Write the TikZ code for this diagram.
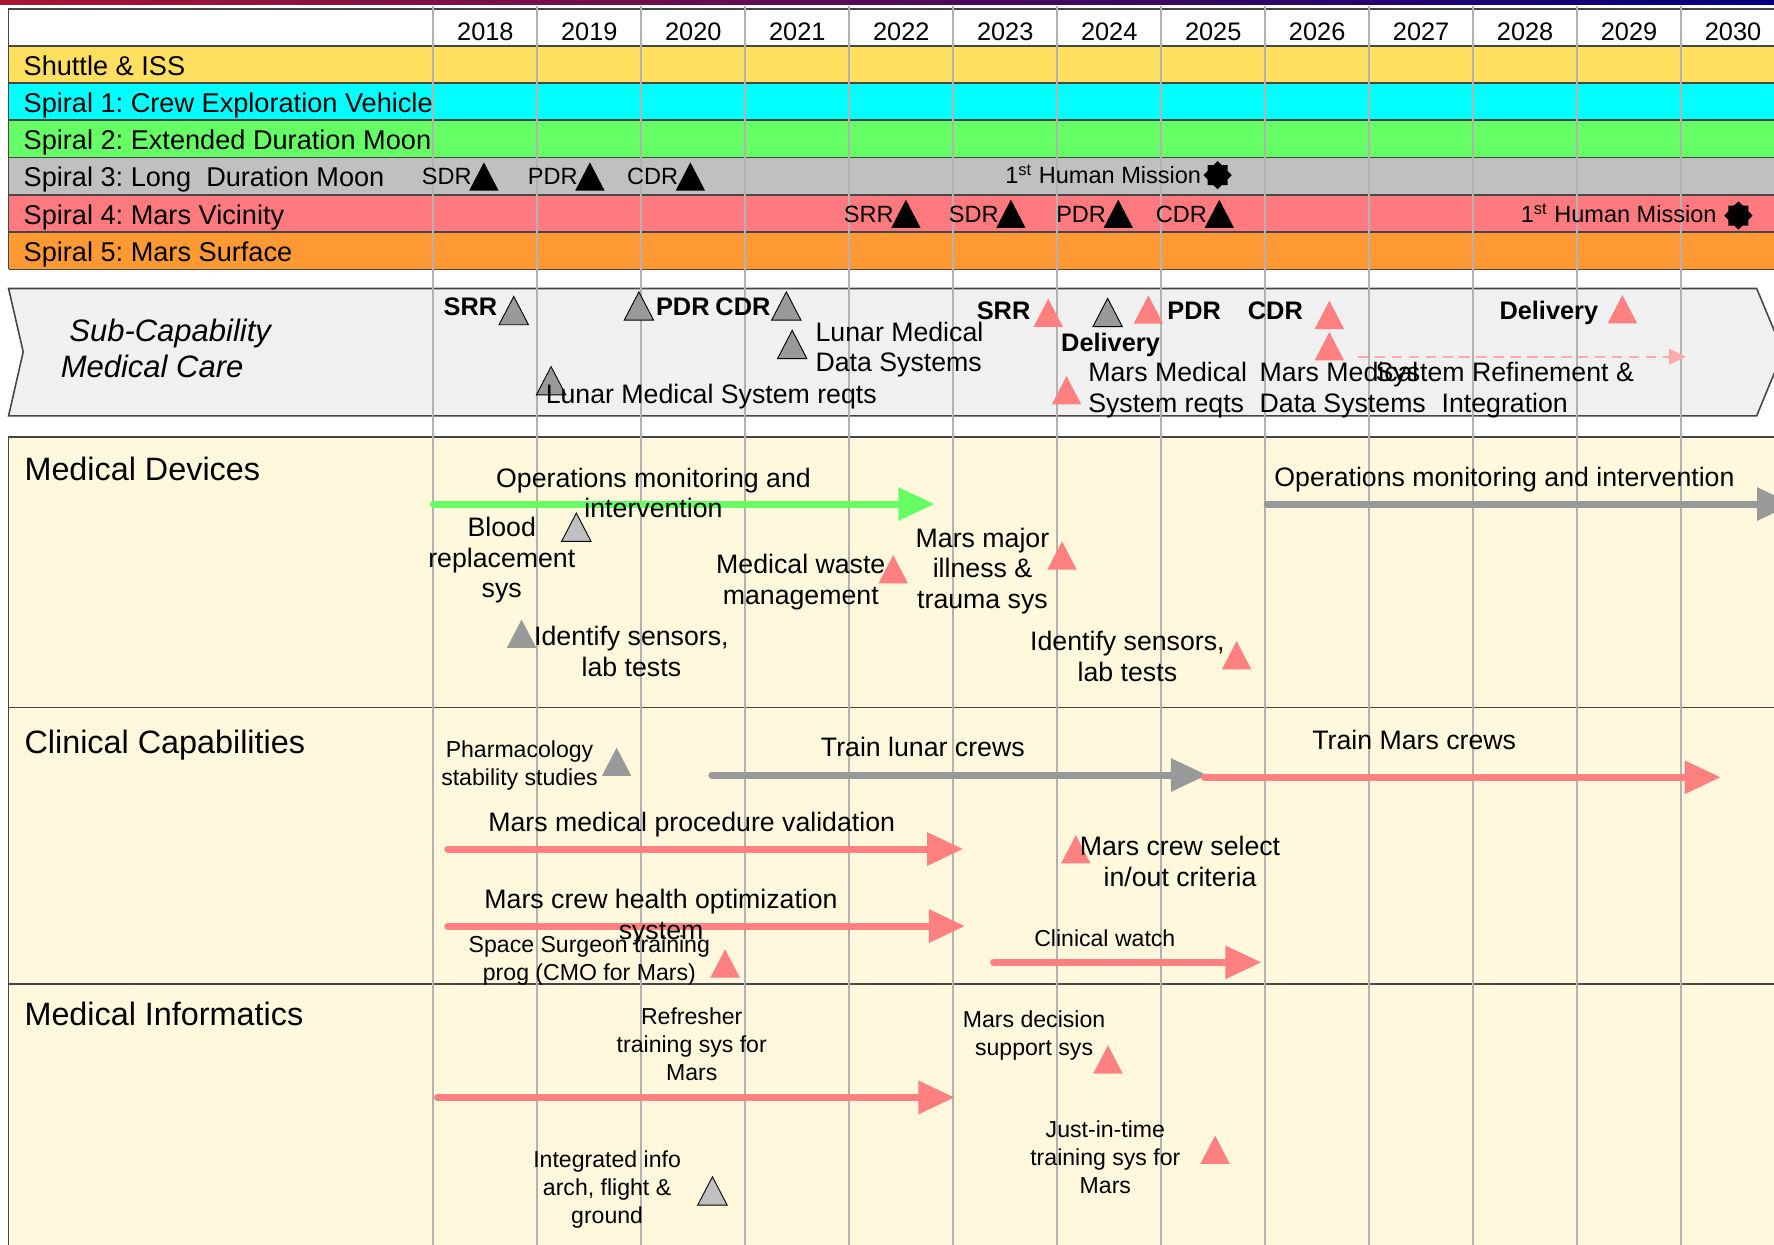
\documentclass[tikz,border=0pt]{standalone}
\usepackage{fontspec}
\setmainfont{Liberation Sans}
\usetikzlibrary{arrows.meta,shapes.geometric}
\frenchspacing

\definecolor{shuttle}{RGB}{255,223,95}
\definecolor{spiralone}{RGB}{0,255,255}
\definecolor{spiraltwo}{RGB}{102,255,102}
\definecolor{spiralthree}{RGB}{192,192,192}
\definecolor{spiralfour}{RGB}{255,122,126}
\definecolor{spiralfive}{RGB}{255,153,51}
\definecolor{panelbg}{RGB}{255,248,220}
\definecolor{chevronbg}{RGB}{240,240,240}
\definecolor{marspink}{RGB}{255,128,128}
\definecolor{dashpink}{RGB}{255,170,170}
\definecolor{lunargray}{RGB}{153,153,153}
\definecolor{palegray}{RGB}{192,192,192}
\definecolor{gridgray}{RGB}{178,178,178}
\definecolor{edgegray}{RGB}{70,70,70}

\newcommand{\txtyear}{\fontsize{11.2}{13}\selectfont}
\newcommand{\txtrow}{\fontsize{12}{14}\selectfont}
\newcommand{\txtms}{\fontsize{10.4}{12}\selectfont}
\newcommand{\txtbody}{\fontsize{11.8}{13.5}\selectfont}
\newcommand{\txtsmall}{\fontsize{10.2}{12.4}\selectfont}
\newcommand{\txthead}{\fontsize{14.3}{17}\selectfont}
\newcommand{\txtbold}{\fontsize{11.2}{13.5}\selectfont\bfseries}

\tikzset{
	ms/.pic={\path[pic actions] (-13,12.5) -- (0,-12.5) -- (13,12.5) -- cycle;},
	mspink/.style={fill=marspink},
	msgray/.style={fill=lunargray, draw=black, line width=0.4pt},
	mssolid/.style={fill=lunargray},
	mspale/.style={fill=palegray, draw=black, line width=0.4pt},
	msblack/.style={fill=black},
	human/.style={star, star points=8, star point ratio=1.3, fill=black, minimum size=12.5pt, inner sep=0pt},
	bar/.style={line width=3.1pt, line cap=round, -{Triangle[length=16pt,width=14pt]}},
	txt/.style={inner sep=0pt, font=\txtbody},
	txtsm/.style={inner sep=0pt, font=\txtsmall},
	multi/.style={anchor=north, align=center},
	mslbl/.style={anchor=base east, inner sep=0pt, font=\txtms},
	boldlbl/.style={anchor=base west, inner sep=0pt, font=\txtbold},
	sect/.style={anchor=base west, inner sep=0pt, font=\txthead},
}

\begin{document}
\begin{tikzpicture}[x=0.5pt,y=-0.5pt]
	\useasboundingbox (0,0) rectangle (1568,1100);
	\clip (0,0) rectangle (1568,1100);

	\shade[left color={rgb,255:red,170;green,20;blue,50}, middle color={rgb,255:red,100;green,0;blue,80}, right color={rgb,255:red,0;green,0;blue,128}] (0,0) rectangle (1568,4.4);

	\foreach \c/\t [count=\i from 0] in {shuttle/Shuttle \& ISS, spiralone/Spiral 1: Crew Exploration Vehicle, spiraltwo/Spiral 2: Extended Duration Moon, spiralthree/Spiral 3: Long~ Duration Moon, spiralfour/Spiral 4: Mars Vicinity, spiralfive/Spiral 5: Mars Surface}
	{
		\fill[\c] (7.6,40.4+32.95*\i) rectangle (1568,73.35+32.95*\i);
		\node[anchor=base west, inner sep=0pt, font=\txtrow] (row\i) at (20.5,66.4+32.95*\i) {\t};
	}
	\foreach \i in {0,...,6}
		\draw[edgegray, line width=0.7pt] (7.6,40.4+32.95*\i) -- (1568,40.4+32.95*\i);
	\draw[edgegray, line width=0.7pt] (1568,8) -- (7.6,8) -- (7.6,238.1);

	\draw[edgegray, line width=0.7pt, fill=chevronbg] (7.6,255) -- (1552.7,255) -- (1576,311) -- (1552.7,367.5) -- (7.6,367.5) -- (20.5,311) -- cycle;

	\foreach \top/\bot in {386/625.2, 625.2/869.8, 869.8/1110}
		\draw[edgegray, line width=0.7pt, fill=panelbg] (1600,\top) -- (7.6,\top) -- (7.6,\bot) -- (1600,\bot);

	\foreach \i in {0,...,12}
		\draw[gridgray, line width=0.9pt] (383+91.9*\i,5) -- (383+91.9*\i,1100);

	\foreach \yr [count=\i from 0] in {2018,...,2030}
		\node[anchor=base, inner sep=0pt, font=\txtyear] (y\yr) at (429+91.9*\i,36) {\yr};

	\foreach \x/\t in {427.7/SDR, 521.4/PDR, 610.2/CDR}
	{
		\pic[msblack] at (\x,156) {ms};
		\node[mslbl] (moon\t) at (\x-10.5,163) {\t};
	}
	\foreach \x/\t in {800.7/SRR, 893.5/SDR, 988.4/PDR, 1077.7/CDR}
	{
		\pic[msblack] at (\x,189) {ms};
		\node[mslbl] (mars\t) at (\x-10.5,196.5) {\t};
	}
	\node[human] (hmmoon) at (1076.2,154.8) {};
	\node[mslbl] (hmmoontxt) at (1062,162) {1\textsuperscript{st} Human Mission};
	\node[human] (hmmars) at (1536.5,190.5) {};
	\node[mslbl] (hmmarstxt) at (1517.6,196.8) {1\textsuperscript{st} Human Mission};

	\node[anchor=north west, align=left, inner sep=0pt, font=\fontsize{13.7}{16}\selectfont\itshape] (subcap) at (53.3,281.4) {\hspace*{0.278em}Sub-Capability\\Medical Care};

	\draw[dashpink, line width=1pt, dash pattern=on 4.5pt off 3pt, -{Triangle[length=7.5pt,width=7pt]}] (1200,315.3) -- (1490,315.3);

	\foreach \x/\y in {454.1/274.5, 564.7/270.5, 695/270.5, 700.2/304.5, 487.1/336.5, 979/276.2}
		\pic[msgray] at (\x,\y) {ms};
	\foreach \x/\y in {926.5/276.5, 1015/273.6, 1175/278.3, 1175/306, 942.7/344.9, 1434/273.3}
		\pic[mspink] at (\x,\y) {ms};

	\node[boldlbl] (srrmoon) at (391.7,279) {SRR};
	\node[boldlbl] (pdrmoon) at (579.5,279) {PDR};
	\node[boldlbl] (cdrmoon) at (632,279) {CDR};
	\node[boldlbl] (srrmars) at (863,282.3) {SRR};
	\node[boldlbl] (pdrmars) at (1031.5,282.3) {PDR};
	\node[boldlbl] (cdrmars) at (1102.6,282.3) {CDR};
	\node[boldlbl] (delmars) at (1325,282.3) {Delivery};
	\node[boldlbl] (delmoon) at (937.6,311) {Delivery};

	\node[txt, anchor=north west, align=left] (lunardata) at (720.5,284) {Lunar Medical\\Data Systems};
	\node[txt, anchor=base west] (lunarreqts) at (482,357) {Lunar Medical System reqts};
	\node[txt, anchor=north west, align=left] (marsreqts) at (961.5,320) {Mars Medical\\System reqts};
	\node[txt, anchor=north west, align=left] (marsdata) at (1113,320) {Mars Medical\\Data Systems};
	\node[txt, multi] (refine) at (1330,320) {System Refinement \&\\Integration};

	\node[sect] (devices) at (21.3,424.9) {Medical Devices};
	\node[sect] (clinical) at (21.3,665.9) {Clinical Capabilities};
	\node[sect] (informatics) at (21.3,906) {Medical Informatics};

	\draw[bar, spiraltwo] (383,445.5) -- (826,445.5);
	\draw[bar, lunargray] (1120,445.5) -- (1585,445.5);
	\draw[bar, lunargray] (629.2,685) -- (1067,685);
	\draw[bar, marspink] (1064.5,687) -- (1521,687);
	\draw[bar, marspink] (395.8,750.4) -- (851.4,750.4);
	\draw[bar, marspink] (395.8,818.5) -- (853,818.5);
	\draw[bar, marspink] (878.3,850.6) -- (1115,850.6);
	\draw[bar, marspink] (386.6,970) -- (843.8,970);

	\pic[mspale] at (509.4,466) {ms};
	\pic[mspale] at (629.7,1052.6) {ms};
	\pic[mssolid] at (461,560.1) {ms};
	\pic[mssolid] at (545,673.3) {ms};
	\foreach \x/\y in {789.5/503.1, 938.7/491, 1093/579.1, 950.9/750.6, 640.9/851.5, 979.3/936.4, 1074/1016.2}
		\pic[mspink] at (\x,\y) {ms};

	\node[txt, multi] (opsmoon) at (577.6,413.2) {Operations monitoring and\\intervention};
	\node[txt, anchor=base west] (opsmars) at (1126,430.2) {Operations monitoring and intervention};
	\node[txt, multi] (blood) at (443.5,456.8) {Blood\\replacement\\sys};
	\node[txt, multi] (waste) at (707.8,489.8) {Medical waste\\management};
	\node[txt, multi] (trauma) at (868.4,466.2) {Mars major\\illness \&\\trauma sys};
	\node[txt, multi] (sensmoon) at (558.1,553.1) {Identify sensors,\\lab tests};
	\node[txt, multi] (sensmars) at (996.5,557.5) {Identify sensors,\\lab tests};

	\node[txtsm, multi] (pharma) at (459.2,654.2) {Pharmacology\\stability studies};
	\node[txt, anchor=base] (trainmoon) at (815.7,668.8) {Train lunar crews};
	\node[txt, anchor=base] (trainmars) at (1250,662.3) {Train Mars crews};
	\node[txt, anchor=base] (procval) at (611.4,735.1) {Mars medical procedure validation};
	\node[txt, multi] (crewsel) at (1043,738.7) {Mars crew select\\in/out criteria};
	\node[txt, multi] (healthopt) at (584.3,785.9) {Mars crew health optimization\\system};
	\node[txtsm, multi] (surgeon) at (520.9,826.6) {Space Surgeon training\\prog (CMO for Mars)};
	\node[txtsm, anchor=base] (watch) at (976.5,836.2) {Clinical watch};

	\node[txtsm, multi] (refresher) at (611.4,889.9) {Refresher\\training sys for\\Mars};
	\node[txtsm, multi] (infoarch) at (536.6,1016.6) {Integrated info\\arch, flight \&\\ground};
	\node[txtsm, multi] (decision) at (914,892.9) {Mars decision\\support sys};
	\node[txtsm, multi] (justintime) at (977,990.1) {Just-in-time\\training sys for\\Mars};
\end{tikzpicture}
\end{document}
